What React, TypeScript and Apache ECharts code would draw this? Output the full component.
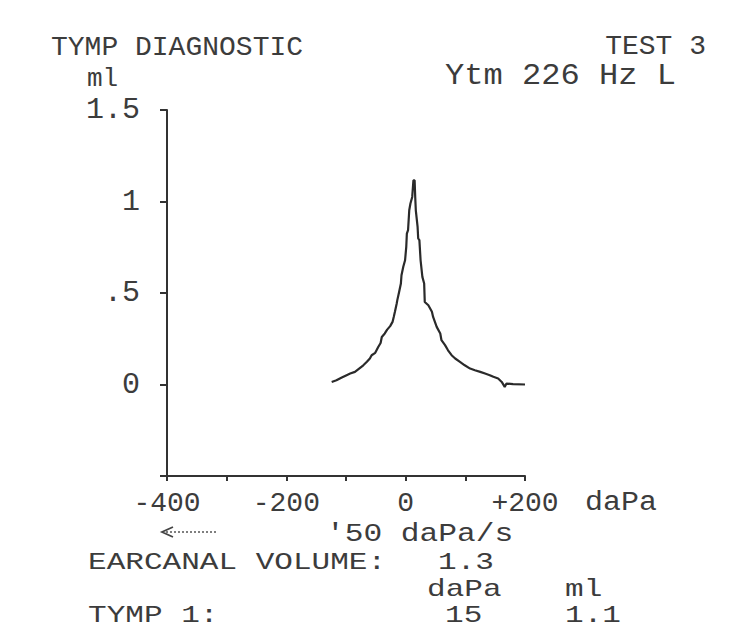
import React, { useEffect, useRef } from "react";
import * as echarts from "echarts";

const pressure = [
  -124, -116, -107, -99, -93, -85, -78, -71, -65, -60, -57, -51, -46, -42, -40, -35, -31, -26, -22, -20, -18,
  -15, -14, -11, -8, -7, -4, -1, 1, 2, 4, 6, 8, 11, 13, 15, 16, 17, 20, 21, 23, 25, 28, 31, 32, 38, 44, 46,
  52, 58, 60, 66, 71, 77, 83, 91, 99, 108, 116, 125, 133, 141, 147, 155, 161, 166, 169, 180, 200,
];
const admittance = [
  0.014, 0.023, 0.038, 0.051, 0.06, 0.069, 0.087, 0.105, 0.124, 0.142, 0.16, 0.173, 0.205, 0.227, 0.26, 0.279,
  0.3, 0.319, 0.342, 0.369, 0.397, 0.443, 0.461, 0.506, 0.552, 0.597, 0.643, 0.679, 0.752, 0.825, 0.843, 0.952,
  0.989, 1.025, 1.116, 1.116, 1.025, 0.952, 0.861, 0.798, 0.789, 0.679, 0.588, 0.552, 0.451, 0.433, 0.397,
  0.369, 0.315, 0.279, 0.242, 0.215, 0.187, 0.16, 0.142, 0.124, 0.105, 0.087, 0.078, 0.069, 0.06, 0.051,
  0.042, 0.033, 0.014, -0.013, 0.005, 0.002, 0.0,
];
const xTickLabels: Record<string, string> = { "-400": "-400", "-200": "-200", "0": "0", "200": "+200" };
const yTickLabels: Record<string, string> = { "1.5": "1.5", "1": "1", "0.5": ".5", "0": "0" };

const FONT = "'Liberation Mono', 'DejaVu Sans Mono', monospace";
const INK = "#3c3c3c";

export default function App() {
  const ref = useRef<HTMLDivElement>(null);
  useEffect(() => {
    if (!ref.current) return;
    const chart = echarts.init(ref.current, null, { renderer: "svg" });
    const txt = (text: string, x: number, y: number, opts: any = {}) => ({
      type: "text",
      x,
      y,
      scaleX: opts.sx || 1,
      scaleY: opts.sy || 1,
      silent: true,
      style: {
        text,
        fill: INK,
        font: `${opts.size || 30}px ${FONT}`,
        textAlign: opts.align || "left",
        textVerticalAlign: "middle",
      },
    });
    const foot = { size: 23, sx: 1.35, sy: 1 };
    chart.setOption({
      animation: false,
      backgroundColor: "#ffffff",
      grid: { left: 167, right: 210, top: 110, bottom: 154, containLabel: false },
      xAxis: {
        type: "value",
        min: -400,
        max: 200,
        interval: 100,
        splitLine: { show: false },
        axisLine: { show: true, onZero: false, lineStyle: { color: "#333", width: 2 } },
        axisTick: { show: true, length: 5, lineStyle: { color: "#333", width: 2 } },
        axisLabel: {
          margin: 27,
          verticalAlign: "middle",
          fontFamily: FONT,
          fontSize: 28,
          color: INK,
          formatter: (v: number) => xTickLabels[String(v)] ?? "",
        },
      },
      yAxis: {
        type: "value",
        min: -0.5,
        max: 1.5,
        interval: 0.5,
        splitLine: { show: false },
        axisLine: { show: true, onZero: false, lineStyle: { color: "#333", width: 2 } },
        axisTick: { show: true, length: 7, lineStyle: { color: "#333", width: 2 } },
        axisLabel: {
          margin: 27,
          fontFamily: FONT,
          fontSize: 30,
          color: INK,
          formatter: (v: number) => yTickLabels[String(v)] ?? "",
        },
      },
      series: [
        {
          type: "line",
          data: pressure.map((p, i) => [p, admittance[i]]),
          showSymbol: false,
          lineStyle: { color: "#2a2a2a", width: 2.2 },
          silent: true,
        },
      ],
      graphic: [
        txt("TYMP DIAGNOSTIC", 51, 47, { size: 28 }),
        txt("TEST 3", 706, 46, { size: 28, align: "right" }),
        txt("ml", 87, 79, { size: 26 }),
        txt("Ytm 226 Hz L", 445, 76, { size: 30, sx: 1.07 }),
        txt("daPa", 585, 503, { size: 28, sx: 1.07 }),
        {
          type: "line",
          silent: true,
          shape: { x1: 166, y1: 532, x2: 217, y2: 532 },
          style: { stroke: "#555", lineWidth: 1.3, lineDash: [2, 2] },
        },
        {
          type: "polyline",
          silent: true,
          shape: { points: [[173, 527], [162, 532], [173, 537]] },
          style: { stroke: "#444", lineWidth: 1.8, fill: "none" },
        },
        txt("'50 daPa/s", 326, 534, { size: 26, sx: 1.2 }),
        txt("EARCANAL VOLUME:", 88, 563, foot),
        txt("1.3", 438, 563, foot),
        txt("daPa", 427, 590, foot),
        txt("ml", 565, 590, foot),
        txt("TYMP 1:", 88, 616, foot),
        txt("15", 445, 616, foot),
        txt("1.1", 565, 616, foot),
      ],
    });
    return () => chart.dispose();
  }, []);
  return (
    <div
      ref={ref}
      style={{ position: "fixed", left: 0, top: 0, width: 735, height: 630, background: "#fff" }}
    />
  );
}
